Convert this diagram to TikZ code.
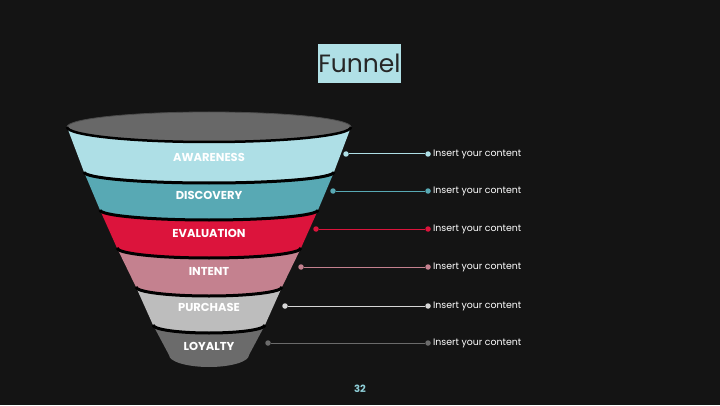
\documentclass[tikz,border=0pt]{standalone}
\usepackage{fontspec}
\setmainfont{Poppins}
\usetikzlibrary{positioning}
\definecolor{bgdark}{HTML}{141414}
\definecolor{rimgray}{HTML}{686868}
\definecolor{awarecol}{HTML}{AEDFE6}
\definecolor{discocol}{HTML}{58A9B4}
\definecolor{evalcol}{HTML}{DC143C}
\definecolor{intentcol}{HTML}{C4818F}
\definecolor{purchcol}{HTML}{BDBDBD}
\definecolor{purchline}{HTML}{D6D6D6}
\definecolor{loyalcol}{HTML}{6B6B6B}
\definecolor{titlebox}{HTML}{B0E0E6}
\definecolor{pagenum}{HTML}{8FCFD8}

\begin{document}
\begin{tikzpicture}[
    x=1pt, y=1pt,
    band/.style={text=white,font=\bfseries\fontsize{11.5}{13}\selectfont,inner sep=0pt},
    sep/.style={black,line width=3pt},
    dot/.style={circle,inner sep=0pt,minimum size=5.5pt},
    link/.style={line width=1pt},
    note/.style={text=white,font=\fontsize{9.4}{11}\selectfont,inner sep=0pt}
  ]
    \useasboundingbox (0,0) rectangle (720,405);
    \fill[bgdark] (0,0) rectangle (720,405);

    % funnel bands, top to bottom
    \fill[awarecol] (67,278) arc[start angle=180,end angle=360,x radius=142,y radius=15] -- (334,233) arc[start angle=0,end angle=-180,x radius=125,y radius=11] -- cycle;
    \fill[discocol] (84,233) arc[start angle=180,end angle=360,x radius=125,y radius=11] -- (318,195) arc[start angle=0,end angle=-180,x radius=109,y radius=10] -- cycle;
    \fill[evalcol] (100,195) arc[start angle=180,end angle=360,x radius=109,y radius=10] -- (301,157) arc[start angle=0,end angle=-180,x radius=92,y radius=10] -- cycle;
    \fill[intentcol] (117,157) arc[start angle=180,end angle=360,x radius=92,y radius=10] -- (282,118) arc[start angle=0,end angle=-180,x radius=73,y radius=9] -- cycle;
    \fill[purchcol] (136,118) arc[start angle=180,end angle=360,x radius=73,y radius=9] -- (265,80) arc[start angle=0,end angle=-180,x radius=56,y radius=8] -- cycle;
    \fill[loyalcol] (153,80) arc[start angle=180,end angle=360,x radius=56,y radius=8] -- (249,50) arc[start angle=0,end angle=-180,x radius=40,y radius=12] -- cycle;

    % dark gaps between bands
    \draw[sep] (84,233) arc[start angle=180,end angle=360,x radius=125,y radius=11];
    \draw[sep] (100,195) arc[start angle=180,end angle=360,x radius=109,y radius=10];
    \draw[sep] (117,157) arc[start angle=180,end angle=360,x radius=92,y radius=10];
    \draw[sep] (136,118) arc[start angle=180,end angle=360,x radius=73,y radius=9];
    \draw[sep] (153,80) arc[start angle=180,end angle=360,x radius=56,y radius=8];

    % rim of the funnel
    \filldraw[fill=rimgray,draw=black!70,line width=0.8pt] (209,278) ellipse[x radius=142,y radius=15];
    \draw[sep,line width=2.5pt] (67,278) arc[start angle=180,end angle=360,x radius=142,y radius=15];

    \node[band] (aware)  at (209,248) {AWARENESS};
    \node[band] (disco)  at (209,210) {DISCOVERY};
    \node[band] (evalu)  at (209,172) {EVALUATION};
    \node[band] (intent) at (209,134) {INTENT};
    \node[band] (purch)  at (209,98)  {PURCHASE};
    \node[band] (loyal)  at (209,59)  {LOYALTY};

    % connectors to the notes
    \node[dot,fill=awarecol] (awareA) at (346,251) {};
    \node[dot,fill=awarecol] (awareB) at (428,251) {};
    \node[note,right=2pt of awareB] (awareT) {Insert your content};
    \draw[link,awarecol] (awareA) -- (awareB);

    \node[dot,fill=discocol] (discoA) at (333,214) {};
    \node[dot,fill=discocol] (discoB) at (428,214) {};
    \node[note,right=2pt of discoB] (discoT) {Insert your content};
    \draw[link,discocol] (discoA) -- (discoB);

    \node[dot,fill=evalcol] (evaluA) at (316,176) {};
    \node[dot,fill=evalcol] (evaluB) at (428,176) {};
    \node[note,right=2pt of evaluB] (evaluT) {Insert your content};
    \draw[link,evalcol] (evaluA) -- (evaluB);

    \node[dot,fill=intentcol] (intentA) at (301,138) {};
    \node[dot,fill=intentcol] (intentB) at (428,138) {};
    \node[note,right=2pt of intentB] (intentT) {Insert your content};
    \draw[link,intentcol] (intentA) -- (intentB);

    \node[dot,fill=purchline] (purchA) at (285,99) {};
    \node[dot,fill=purchline] (purchB) at (428,99) {};
    \node[note,right=2pt of purchB] (purchT) {Insert your content};
    \draw[link,purchline] (purchA) -- (purchB);

    \node[dot,fill=loyalcol] (loyalA) at (268,62) {};
    \node[dot,fill=loyalcol] (loyalB) at (428,62) {};
    \node[note,right=2pt of loyalB] (loyalT) {Insert your content};
    \draw[link,loyalcol] (loyalA) -- (loyalB);

    \node[fill=titlebox,text=black!85,font=\fontsize{25}{28}\selectfont,minimum width=83pt,minimum height=39pt,inner sep=0pt] (title) at (359.5,341.5) {Funnel};
    \node[text=pagenum,font=\bfseries\fontsize{10}{11}\selectfont] (page) at (360,16) {32};
  \end{tikzpicture}
\end{document}
